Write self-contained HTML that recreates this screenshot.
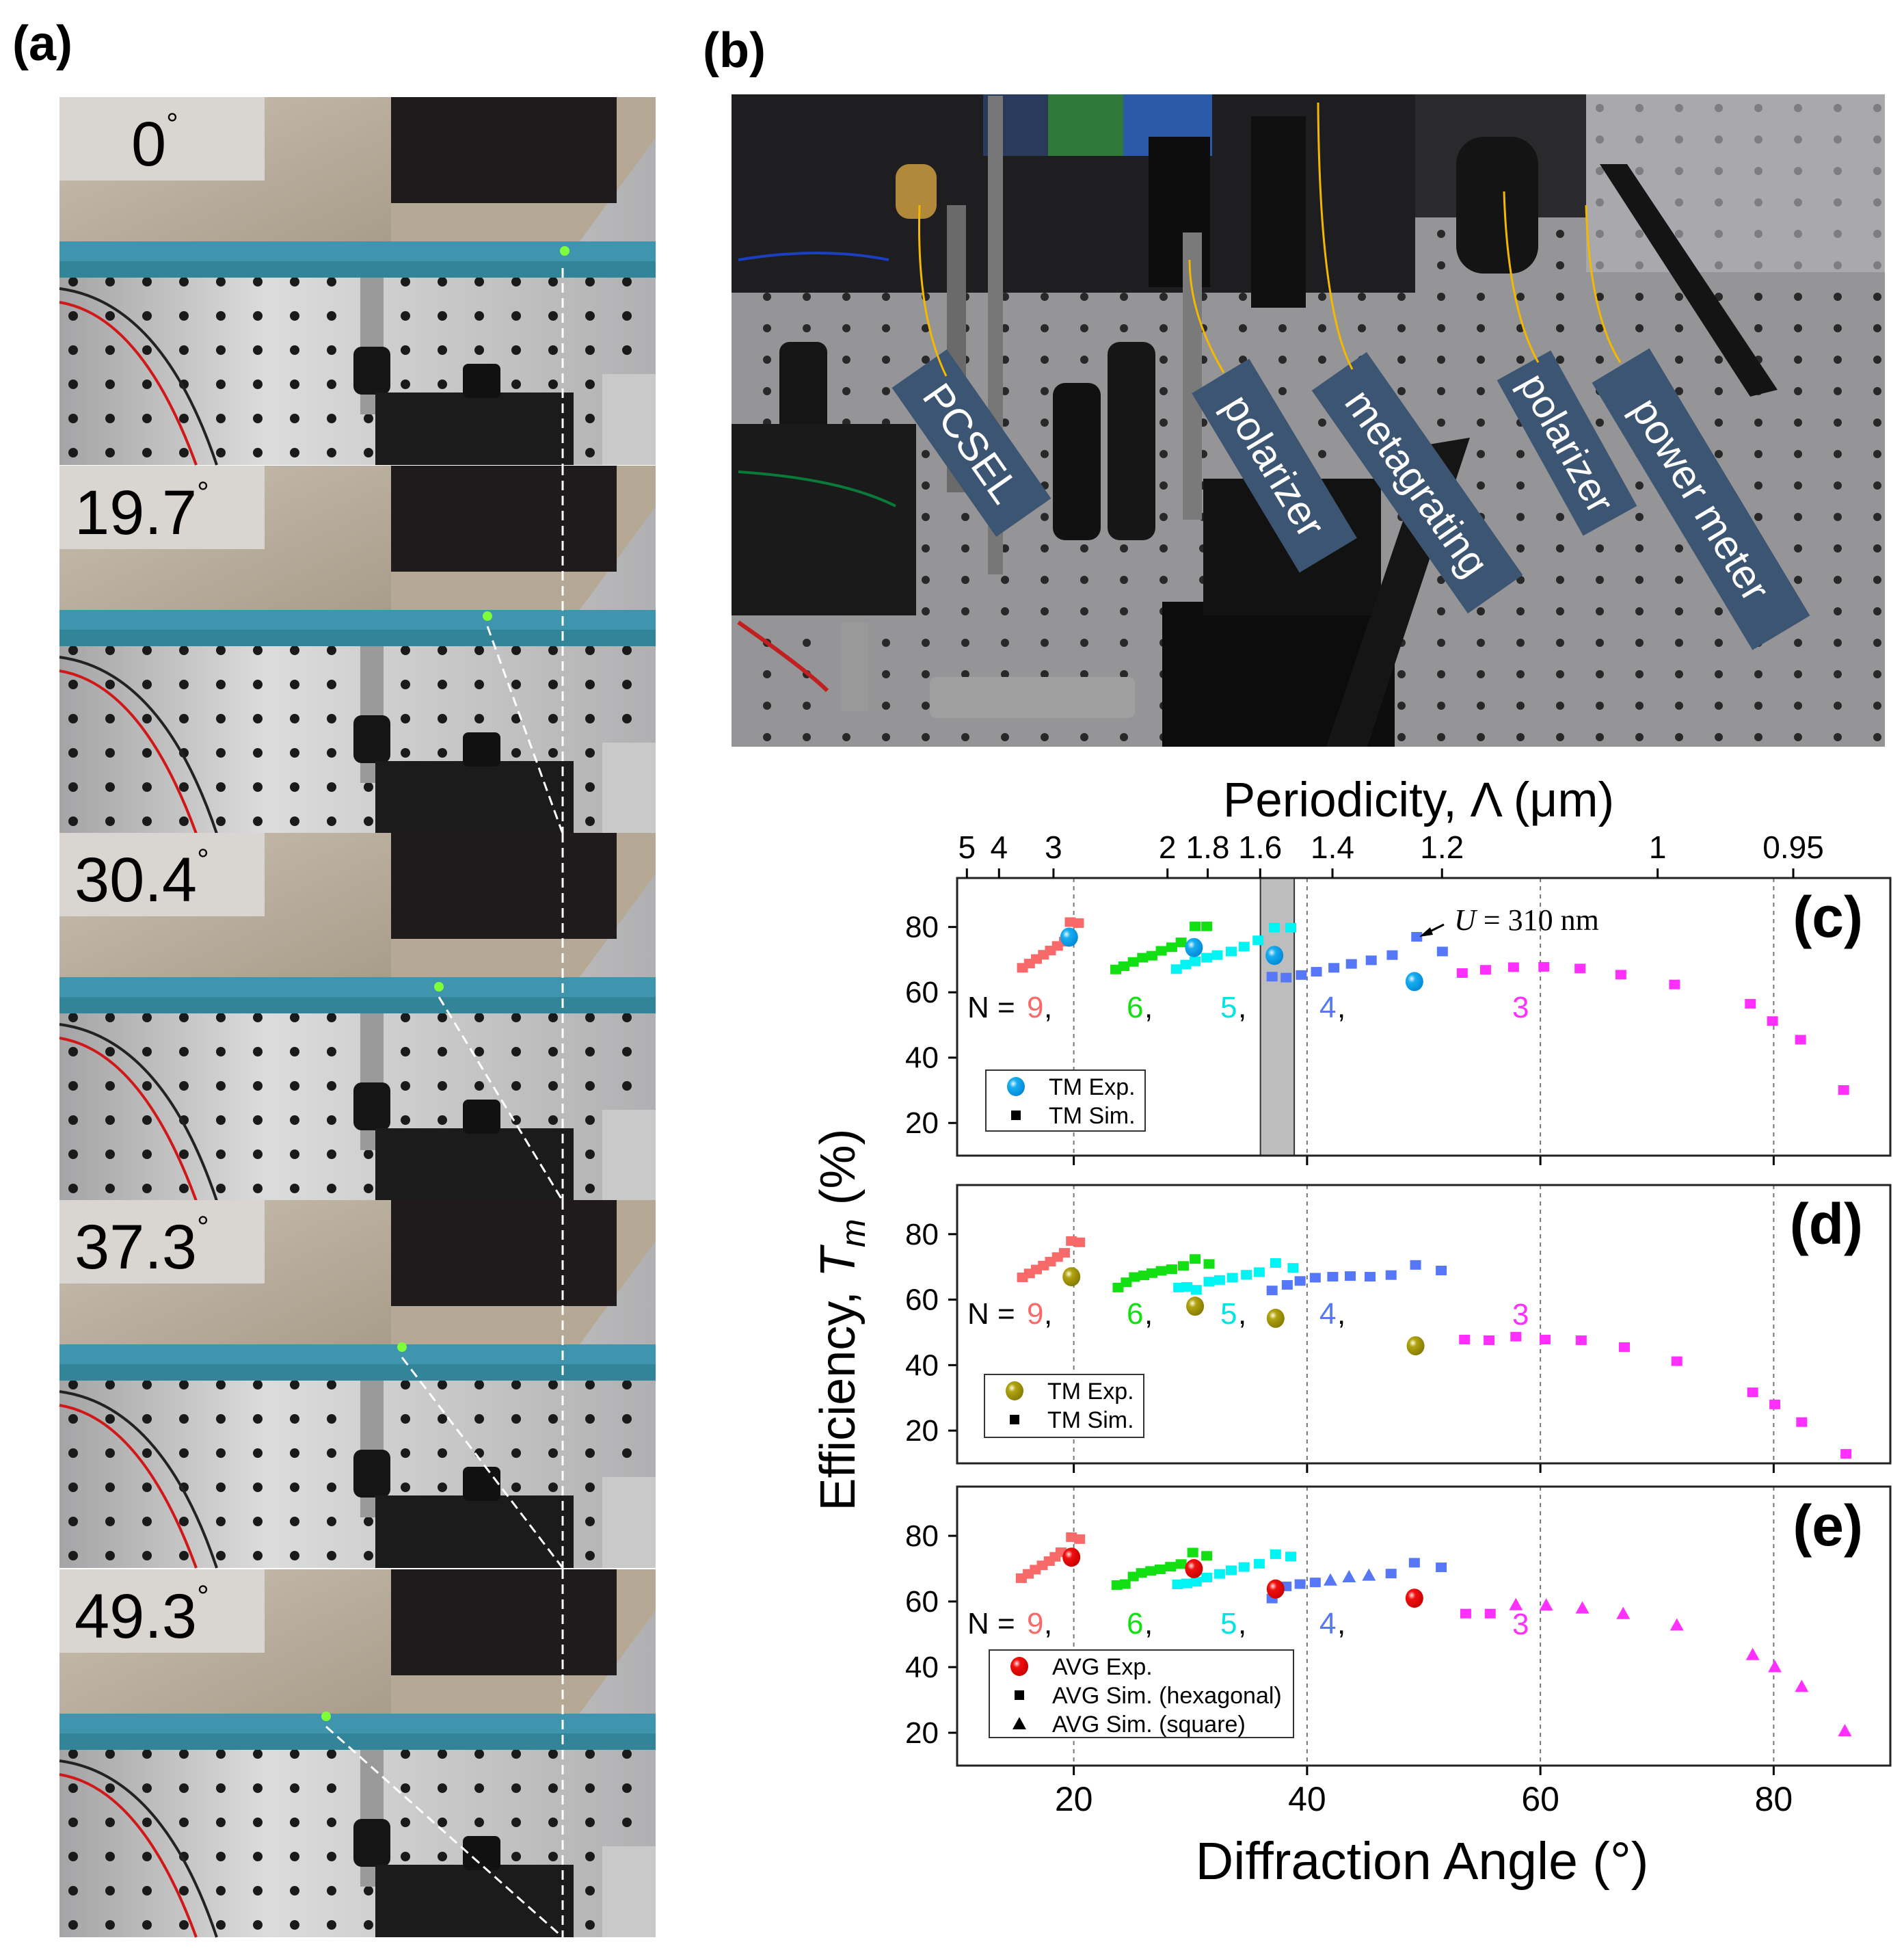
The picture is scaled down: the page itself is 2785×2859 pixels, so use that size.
<!DOCTYPE html>
<html><head><meta charset="utf-8"><style>
html,body{margin:0;padding:0;background:#fff;}
svg{display:block;}
text{font-family:"Liberation Sans",Arial,sans-serif;}
</style></head><body>
<svg id="fig" xmlns="http://www.w3.org/2000/svg" width="2785" height="2859" viewBox="0 0 2785 2859">
<defs>
<pattern id="holes" width="54" height="50" patternUnits="userSpaceOnUse"><circle cx="20" cy="20" r="7" fill="#1a1a1a"/></pattern>
<pattern id="holesB" width="58" height="46" patternUnits="userSpaceOnUse"><circle cx="20" cy="20" r="6" fill="#151515"/></pattern>
<radialGradient id="gBlue" cx="0.35" cy="0.35" r="0.7"><stop offset="0" stop-color="#e8f8ff"/><stop offset="0.3" stop-color="#19aef0"/><stop offset="1" stop-color="#0088d8"/></radialGradient>
<radialGradient id="gOlive" cx="0.35" cy="0.35" r="0.7"><stop offset="0" stop-color="#fffbe0"/><stop offset="0.3" stop-color="#b0a312"/><stop offset="1" stop-color="#857a00"/></radialGradient>
<radialGradient id="gRed" cx="0.35" cy="0.35" r="0.7"><stop offset="0" stop-color="#ffe0e0"/><stop offset="0.3" stop-color="#f01010"/><stop offset="1" stop-color="#c80000"/></radialGradient>
<linearGradient id="wall" x1="0" y1="0" x2="1" y2="1"><stop offset="0" stop-color="#cbc1b2"/><stop offset="1" stop-color="#a89c8a"/></linearGradient>
<linearGradient id="tableG" x1="0" y1="0" x2="1" y2="0"><stop offset="0" stop-color="#a4a4a6"/><stop offset="0.35" stop-color="#dcdcdc"/><stop offset="1" stop-color="#b0b0b2"/></linearGradient>
</defs>

<text x="18" y="88" font-size="72" font-weight="bold">(a)</text>
<text x="1028" y="98" font-size="72" font-weight="bold">(b)</text>

<g id="photoA"></g>

<g>
  <rect x="1070" y="138" width="1687" height="954" fill="#959597"/>
  <rect x="1070" y="138" width="1687" height="954" fill="url(#holesB)" opacity="0.85"/>
  <rect x="1070" y="138" width="1000" height="290" fill="#1e1e20"/>
  <rect x="1438" y="138" width="95" height="90" fill="#2a3a5a"/>
  <rect x="1533" y="138" width="110" height="90" fill="#2f7a3a"/>
  <rect x="1643" y="138" width="130" height="90" fill="#2a5aa8"/>
  <rect x="2070" y="138" width="250" height="180" fill="#2a2a2c"/>
  <rect x="2320" y="138" width="437" height="260" fill="#b8b8bc" opacity="0.6"/>
  <rect x="1310" y="240" width="60" height="80" rx="20" fill="#b08a3a"/>
  <rect x="1385" y="300" width="28" height="420" fill="#6a6a6a"/>
  <rect x="1445" y="140" width="22" height="700" fill="#777"/>
  <rect x="1140" y="500" width="70" height="300" rx="15" fill="#151515"/>
  <rect x="1070" y="620" width="270" height="280" fill="#1a1a1a"/>
  <rect x="1540" y="560" width="70" height="230" rx="18" fill="#111"/>
  <rect x="1620" y="500" width="70" height="290" rx="18" fill="#161616"/>
  <rect x="1680" y="200" width="90" height="220" fill="#0d0d0d"/>
  <rect x="1730" y="340" width="28" height="420" fill="#7a7a7a"/>
  <rect x="1830" y="170" width="80" height="280" fill="#101010"/>
  <rect x="1700" y="880" width="340" height="212" fill="#0c0c0c"/>
  <rect x="1760" y="700" width="260" height="200" fill="#121212"/>
  <rect x="2130" y="200" width="120" height="200" rx="40" fill="#141414"/>
  <polygon points="2340,240 2380,240 2600,570 2560,580" fill="#141414"/>
  <polygon points="2090,650 2150,640 2000,1092 1940,1092" fill="#151515"/>
  <rect x="1360" y="990" width="300" height="60" rx="10" fill="#a0a0a0"/>
  <rect x="1230" y="910" width="40" height="130" fill="#999"/>
  <path d="M1080 380 Q1200 360 1300 380" stroke="#1a3fc0" stroke-width="4" fill="none"/>
  <path d="M1080 690 Q1230 700 1310 740" stroke="#0a7a3a" stroke-width="4" fill="none"/>
  <path d="M1080 910 Q1180 980 1210 1010" stroke="#c02020" stroke-width="6" fill="none"/>
  <g transform="translate(1421,648) rotate(55)"><rect x="-133" y="-49" width="266" height="98" fill="#3c5572"/><text x="0" y="21" font-size="60" fill="#fff" text-anchor="middle">PCSEL</text></g>
  <g transform="translate(1864,681) rotate(59)"><rect x="-153" y="-49" width="306" height="98" fill="#3c5572"/><text x="0" y="21" font-size="60" fill="#fff" text-anchor="middle">polarizer</text></g>
  <g transform="translate(2073,706) rotate(55)"><rect x="-199" y="-49" width="398" height="98" fill="#3c5572"/><text x="0" y="21" font-size="60" fill="#fff" text-anchor="middle">metagrating</text></g>
  <g transform="translate(2292,648) rotate(61)"><rect x="-130" y="-45" width="260" height="90" fill="#3c5572"/><text x="0" y="20" font-size="58" fill="#fff" text-anchor="middle">polarizer</text></g>
  <g transform="translate(2488,730) rotate(59)"><rect x="-228" y="-49" width="456" height="98" fill="#3c5572"/><text x="0" y="21" font-size="60" fill="#fff" text-anchor="middle">power meter</text></g>
  <path d="M1384 550 Q1340 460 1345 300" stroke="#f5b800" stroke-width="3" fill="none"/>
  <path d="M1790 545 Q1740 460 1740 380" stroke="#f5b800" stroke-width="3" fill="none"/>
  <path d="M1978 540 Q1930 450 1928 150" stroke="#f5b800" stroke-width="3" fill="none"/>
  <path d="M2250 530 Q2205 450 2200 280" stroke="#f5b800" stroke-width="3" fill="none"/>
  <path d="M2370 530 Q2325 460 2320 300" stroke="#f5b800" stroke-width="3" fill="none"/>
</g>

<g id="chart"></g>
</svg>

<script>
const periodTicks = [5, 4, 3, 2, 1.8, 1.6, 1.4, 1.2, 1, 0.95];
const periodTickLabels = ["5", "4", "3", "2", "1.8", "1.6", "1.4", "1.2", "1", "0.95"];
const wavelengthUm = 0.94;
const angleTicks = [20, 40, 60, 80];
const effTicks = [20, 40, 60, 80];

const cAng9 = [15.6,16.2,16.8,17.4,18.0,18.6,19.2,19.7,20.4];
const cVal9 = [67.5,68.8,70.2,71.5,72.8,74.2,75.5,81.5,81.2];
const cAng6 = [23.6,24.3,25.1,25.9,26.7,27.5,28.4,29.2,30.4,31.4];
const cVal6 = [67.0,68.0,69.3,70.6,71.2,72.7,73.8,75.3,80.2,80.2];
const cAng5 = [28.8,29.6,30.4,31.4,32.3,33.5,34.6,35.8,37.2,38.6];
const cVal5 = [67.1,68.5,69.5,70.6,71.4,72.5,74.0,75.9,79.8,79.8];
const cAng4 = [37.0,38.2,39.5,40.8,42.3,43.8,45.5,47.3,49.4,51.6];
const cVal4 = [64.8,64.5,65.3,66.3,67.5,68.7,69.8,71.4,77.0,72.5];
const cAng3 = [53.3,55.3,57.7,60.3,63.4,66.9,71.5,78.0,79.9,82.3,86.0];
const cVal3 = [65.9,66.9,67.7,67.8,67.3,65.4,62.4,56.5,51.2,45.5,30.1];
const cExpAng = [19.6,30.3,37.2,49.2];
const cExpVal = [76.9,73.7,71.3,63.3];
const cShade = [36.0, 38.9];

const dAng9 = [15.6,16.2,16.8,17.4,18.0,18.6,19.2,19.8,20.5];
const dVal9 = [66.8,68.0,69.2,70.4,71.6,73.0,74.3,77.9,77.5];
const dAng6 = [23.8,24.5,25.2,26.0,26.7,27.5,28.4,29.4,30.4,31.6];
const dVal6 = [63.7,65.3,66.9,67.4,68.1,68.8,69.3,70.3,72.4,70.9];
const dAng5 = [29.0,29.7,30.5,31.6,32.5,33.6,34.8,35.9,37.3,38.8];
const dVal5 = [63.7,63.9,63.0,65.5,66.0,66.7,67.6,68.4,71.2,69.7];
const dAng4 = [37.0,38.3,39.4,40.7,42.2,43.7,45.4,47.2,49.3,51.5];
const dVal4 = [62.8,64.5,65.7,66.7,67.0,67.2,67.0,67.5,70.6,68.9];
const dAng3 = [53.5,55.6,57.9,60.4,63.5,67.2,71.7,78.2,80.1,82.4,86.2];
const dVal3 = [47.8,47.6,48.7,47.8,47.6,45.5,41.2,31.7,28.0,22.6,12.9];
const dExpAng = [19.8,30.4,37.3,49.3];
const dExpVal = [67.0,58.0,54.3,45.9];

const eAng9 = [15.5,16.1,16.7,17.3,17.9,18.4,18.9,19.8,20.5];
const eVal9 = [67.1,68.4,69.7,71.0,72.3,73.6,75.0,79.6,79.0];
const eAng6 = [23.7,24.4,25.1,25.8,26.6,27.4,28.3,29.2,30.2,31.4];
const eVal6 = [65.0,65.3,67.6,68.7,69.3,69.8,70.6,71.4,74.9,73.9];
const eAng5 = [28.9,29.7,30.5,31.4,32.5,33.5,34.6,35.9,37.3,38.6];
const eVal5 = [65.2,65.5,66.0,67.3,68.4,69.5,70.5,71.5,74.4,73.7];
const eAng4 = [37.0,38.2,39.4,40.7,42.0,43.6,45.3,47.2,49.2,51.5];
const eVal4 = [60.9,64.6,65.3,65.8,66.5,67.5,68.0,68.5,71.8,70.4];
const eShape4 = ["s","s","s","s","t","t","t","s","s","s"];
const eAng3 = [53.6,55.7,57.9,60.5,63.6,67.1,71.7,78.2,80.1,82.4,86.1];
const eVal3 = [56.3,56.3,59.0,58.9,58.0,56.3,52.8,43.8,40.1,34.1,20.6];
const eShape3 = ["s","s","t","t","t","t","t","t","t","t","t"];
const eExpAng = [19.8,30.3,37.3,49.2];
const eExpVal = [73.5,70.0,63.8,61.0];

const colN9 = "#f86a6a", colN6 = "#12e012", colN5 = "#00f4f4", colN4 = "#5577f8", colN3 = "#ff30ff";

const NS = "http://www.w3.org/2000/svg";
const chart = document.getElementById("chart");
function mk(tag, attrs, parent, txt) {
  const e = document.createElementNS(NS, tag);
  for (const k in attrs) e.setAttribute(k, attrs[k]);
  if (txt !== undefined) e.textContent = txt;
  (parent || chart).appendChild(e);
  return e;
}
const X0 = 1400, X1 = 2765, AMIN = 10, AMAX = 90;
function xs(a) { return X0 + (a - AMIN) * (X1 - X0) / (AMAX - AMIN); }
const panels = [
  {id:"c", top:1284, bot:1690},
  {id:"d", top:1733, bot:2140},
  {id:"e", top:2174, bot:2582}
];
function ysFn(p) { return v => p.top + (95 - v) * (p.bot - p.top) / 85; }

function square(g, x, y, col, name) {
  const r = mk("rect", {x:x-8, y:y-7, width:16, height:14, fill:col}, g);
  
  
}
function tri(g, x, y, col, name) {
  const r = mk("polygon", {points:`${x},${y-10} ${x+10},${y+8} ${x-10},${y+8}`, fill:col}, g);
  
  
}
function sphere(g, x, y, grad, name) {
  const c = mk("ellipse", {cx:x, cy:y, rx:13, ry:14, fill:`url(#${grad})`}, g);
  
  
}

const panelData = {
  c: {series:[[cAng9,cVal9,colN9,"n9"],[cAng6,cVal6,colN6,"n6"],[cAng5,cVal5,colN5,"n5"],[cAng4,cVal4,colN4,"n4"],[cAng3,cVal3,colN3,"n3"]], expA:cExpAng, expV:cExpVal, grad:"gBlue"},
  d: {series:[[dAng9,dVal9,colN9,"n9"],[dAng6,dVal6,colN6,"n6"],[dAng5,dVal5,colN5,"n5"],[dAng4,dVal4,colN4,"n4"],[dAng3,dVal3,colN3,"n3"]], expA:dExpAng, expV:dExpVal, grad:"gOlive"},
  e: {series:[[eAng9,eVal9,colN9,"n9"],[eAng6,eVal6,colN6,"n6"],[eAng5,eVal5,colN5,"n5"],[eAng4,eVal4,colN4,"n4",eShape4],[eAng3,eVal3,colN3,"n3",eShape3]], expA:eExpAng, expV:eExpVal, grad:"gRed"}
};

panels.forEach((p, pi) => {
  const ys = ysFn(p);
  const g = mk("g", {});
  
  
  if (p.id === "c") {
    const sh = mk("rect", {x:xs(cShade[0]), y:p.top, width:xs(cShade[1])-xs(cShade[0]), height:p.bot-p.top, fill:"#bdbdbd", stroke:"#333", "stroke-width":2}, g);
    
    
  }
  angleTicks.forEach(a => {
    const l = mk("line", {x1:xs(a), x2:xs(a), y1:p.top, y2:p.bot, stroke:"#777", "stroke-width":2, "stroke-dasharray":"6,6"}, g);
    
    
    mk("line", {x1:xs(a), x2:xs(a), y1:p.bot, y2:p.bot+14, stroke:"#000", "stroke-width":3}, g);
  });
  effTicks.forEach(v => {
    mk("line", {x1:X0-13, x2:X0, y1:ys(v), y2:ys(v), stroke:"#000", "stroke-width":3}, g);
    const t = mk("text", {x:1373, y:ys(v)+15, "font-size":44, "text-anchor":"end"}, g, String(v));
    
    
  });
  const pd = panelData[p.id];
  pd.series.forEach(s => {
    const [A, V, col, nm, shp] = s;
    A.forEach((a, i) => {
      if (shp && shp[i] === "t") tri(g, xs(a), ys(V[i]), col, 'point-' + nm);
      else square(g, xs(a), ys(V[i]), col, 'point-' + nm);
    });
  });
  pd.expA.forEach((a, i) => sphere(g, xs(a), ys(pd.expV[i]), pd.grad, 'exp-point'));
  const fr = mk("rect", {x:X0, y:p.top, width:X1-X0, height:p.bot-p.top, fill:"none", stroke:"#222", "stroke-width":3}, g);
  
  
  const lab = mk("text", {x:2725, y:p.top+86, "font-size":84, "font-weight":"bold", "text-anchor":"end"}, g, "(" + p.id + ")");
  
  
  const nb = p.top + (p.id === "c" ? 204 : p.id === "d" ? 203 : 215);
  const nl = mk("text", {x:1415, y:nb, "font-size":44}, g);
  
  
  const spans = [["N = ","#000",1415],["9","#f86a6a",1502],[",","#000",1527],["6","#12e012",1648],[",","#000",1674],["5","#00e4e4",1785],[",","#000",1811],["4","#5577f8",1930],[",","#000",1956]];
  spans.forEach(sp => mk("tspan", {x:sp[2], fill:sp[1]}, nl, sp[0]));
  const n3y = p.id === "c" ? nb : p.id === "d" ? 1937 : 2390;
  const t3 = mk("text", {x:2212, y:n3y, "font-size":44, fill:colN3}, g, "3");
  
  
});

periodTicks.forEach((L, i) => {
  const a = Math.asin(wavelengthUm / L) * 180 / Math.PI;
  const x = xs(a);
  mk("line", {x1:x, x2:x, y1:1270, y2:1284, stroke:"#000", "stroke-width":3});
  const t = mk("text", {x:x, y:1255, "font-size":46, "text-anchor":"middle"}, chart, periodTickLabels[i]);
  
  
});
angleTicks.forEach(a => {
  const t = mk("text", {x:xs(a), y:2648, "font-size":50, "text-anchor":"middle"}, chart, String(a));
  
  
});
let tt = mk("text", {x:2075, y:1194, "font-size":71, "text-anchor":"middle"}, chart, "Periodicity, Λ (μm)");


tt = mk("text", {x:2080, y:2748, "font-size":77, "text-anchor":"middle"}, chart, "Diffraction Angle (°)");


tt = mk("text", {x:0, y:0, "font-size":72, "text-anchor":"middle", transform:"translate(1250,1930) rotate(-90)"}, chart);
mk("tspan", {}, tt, "Efficiency, ");
mk("tspan", {"font-style":"italic"}, tt, "T");
mk("tspan", {"font-style":"italic", "font-size":50, dy:15}, tt, "m");
mk("tspan", {dy:-15}, tt, " (%)");



const ua = mk("text", {x:2127, y:1360, "font-size":44, style:"font-family:'Liberation Serif',serif"}, chart);
mk("tspan", {"font-style":"italic"}, ua, "U");
mk("tspan", {}, ua, " = 310 nm");


mk("line", {x1:2112, y1:1352, x2:2088, y2:1364, stroke:"#000", "stroke-width":3});
mk("polygon", {points:"2076,1370 2092,1356 2096,1367", fill:"#000"});

function legend(x, y, w, h, rows, name) {
  const g = mk("g", {});
  
  
  mk("rect", {x:x, y:y, width:w, height:h, fill:"#fff", stroke:"#333", "stroke-width":2}, g);
  rows.forEach((r, i) => {
    const cy = y + 24 + i * 42;
    if (r[0] === "c") sphere(g, x + 44, cy, r[2], 'legend-marker');
    else if (r[0] === "s") mk("rect", {x:x+37, y:cy-7, width:14, height:14, fill:"#000"}, g);
    else mk("polygon", {points:`${x+44},${cy-10} ${x+54},${cy+8} ${x+34},${cy+8}`, fill:"#000"}, g);
    const t = mk("text", {x:x+92, y:cy+12, "font-size":34}, g, r[1]);
    
    
  });
}
legend(1442, 1565, 233, 89, [["c","TM Exp.","gBlue"],["s","TM Sim."]], "legend-c");
legend(1440, 2010, 233, 92, [["c","TM Exp.","gOlive"],["s","TM Sim."]], "legend-d");
legend(1447, 2413, 445, 128, [["c","AVG Exp.","gRed"],["s","AVG Sim. (hexagonal)"],["t","AVG Sim. (square)"]], "legend-e");

const frameTops = [142, 681, 1218, 1755, 2295];
const frameLabels = ["0°", "19.7°", "30.4°", "37.3°", "49.3°"];
const spotX = [826, 713, 642, 588, 477];
const spotY = [225, 220, 225, 215, 215];
const pa = document.getElementById("photoA");
frameTops.forEach((yt, i) => {
  const g = mk("g", {transform:`translate(87,${yt})`}, pa);
  
  
  mk("rect", {x:0, y:0, width:872, height:538, fill:"url(#tableG)"}, g);
  mk("rect", {x:0, y:264, width:872, height:274, fill:"url(#holes)"}, g);
  mk("rect", {x:0, y:0, width:485, height:212, fill:"url(#wall)"}, g);
  mk("polygon", {points:"485,0 872,0 872,60 760,212 485,212", fill:"#b5a996"}, g);
  mk("rect", {x:485, y:0, width:330, height:155, fill:"#1f1a1c"}, g);
  mk("rect", {x:0, y:211, width:872, height:53, fill:"#3f95ad"}, g);
  mk("rect", {x:0, y:240, width:872, height:24, fill:"#2d7f8f", opacity:"0.7"}, g);
  mk("rect", {x:440, y:264, width:34, height:200, fill:"#9a9a9a"}, g);
  mk("rect", {x:430, y:365, width:54, height:70, rx:12, fill:"#151515"}, g);
  mk("rect", {x:462, y:432, width:290, height:106, fill:"#1b1b1b"}, g);
  mk("rect", {x:590, y:390, width:55, height:50, rx:8, fill:"#111"}, g);
  mk("rect", {x:794, y:405, width:78, height:133, fill:"#c9c9c9"}, g);
  mk("path", {d:"M0 300 Q120 320 200 538", stroke:"#d01818", "stroke-width":4, fill:"none"}, g);
  mk("path", {d:"M0 280 Q150 300 230 538", stroke:"#222", "stroke-width":4, fill:"none"}, g);
  mk("rect", {x:0, y:0, width:300, height:122, fill:"#d9d6d2"}, g);
  const lx = i === 0 ? 105 : 22;
  const lt = mk("text", {x:lx, y:100, "font-size":92}, g);
  mk("tspan", {}, lt, frameLabels[i].replace("°",""));
  mk("tspan", {"font-size":44, dy:-46}, lt, "°");
  
  
  mk("circle", {cx:spotX[i]-87, cy:spotY[i], r:7, fill:"#7dff3a"}, g);
  mk("line", {x1:736, y1:i===0?250:0, x2:736, y2:538, stroke:"#fff", "stroke-width":3, "stroke-dasharray":"14,8"}, g);
  if (i > 0) mk("line", {x1:spotX[i]-87, y1:spotY[i]+15, x2:736, y2:538, stroke:"#fff", "stroke-width":3, "stroke-dasharray":"14,8"}, g);
});
</script>
</body></html>
